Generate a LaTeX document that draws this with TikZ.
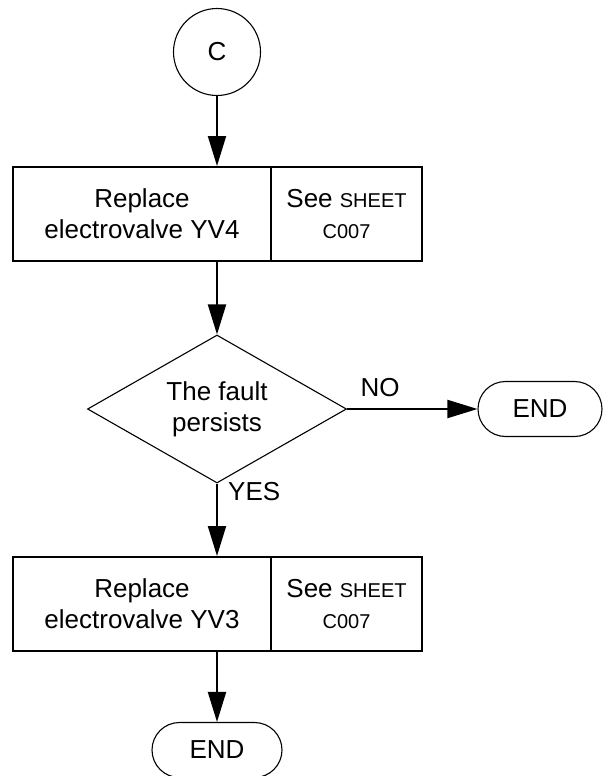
\documentclass[tikz,border=0pt]{standalone}
\usepackage{fontspec}
\setmainfont{Liberation Sans}
\usetikzlibrary{shapes.geometric,shapes.misc,arrows.meta}
\newcommand{\smalltxt}{\fontsize{20pt}{24pt}\selectfont}
\begin{document}
\begin{tikzpicture}[x=1pt,y=-1pt,
  every node/.style={font=\fontsize{26pt}{31pt}\selectfont},
  thinshape/.style={draw,line width=1.1pt,inner sep=0pt},
  stepbox/.style={draw,rectangle,line width=2pt,minimum height=94pt,inner sep=0pt,align=center},
  conn/.style={line width=2pt,-{Triangle[length=30pt,width=18pt]}},
  lbl/.style={inner sep=0pt}]
\useasboundingbox (0,0) rectangle (608,776);
\node[thinshape,circle,minimum size=87pt] (c) at (217,52) {C};
\node[stepbox,minimum width=258pt] (b1l) at (142,214) {Replace\\electrovalve YV4};
\node[stepbox,minimum width=151pt] (b1r) at (346.5,214) {See {\smalltxt SHEET}\\{\smalltxt C007}};
\node[thinshape,diamond,aspect=1.75,minimum width=259pt,minimum height=148pt,align=center] (d) at (217,409) {The fault\\persists};
\node[thinshape,rounded rectangle,minimum width=124pt,minimum height=55pt] (e1) at (540,409) {END};
\node[stepbox,minimum width=258pt] (b2l) at (142,604) {Replace\\electrovalve YV3};
\node[stepbox,minimum width=151pt] (b2r) at (346.5,604) {See {\smalltxt SHEET}\\{\smalltxt C007}};
\node[thinshape,rounded rectangle,minimum width=130pt,minimum height=55pt] (e2) at (217,750) {END};
\draw[conn] (c.south) -- (c.south |- b1l.north);
\draw[conn] (c |- b1l.south) -- (d.north);
\draw[conn] (d.east) -- (e1.west);
\draw[conn] (d.south) -- (c |- b2l.north);
\draw[conn] (c |- b2l.south) -- (e2.north);
\node[lbl] (no) at (380,388) {NO};
\node[lbl,anchor=west] (yes) at (228,492) {YES};
\end{tikzpicture}
\end{document}
